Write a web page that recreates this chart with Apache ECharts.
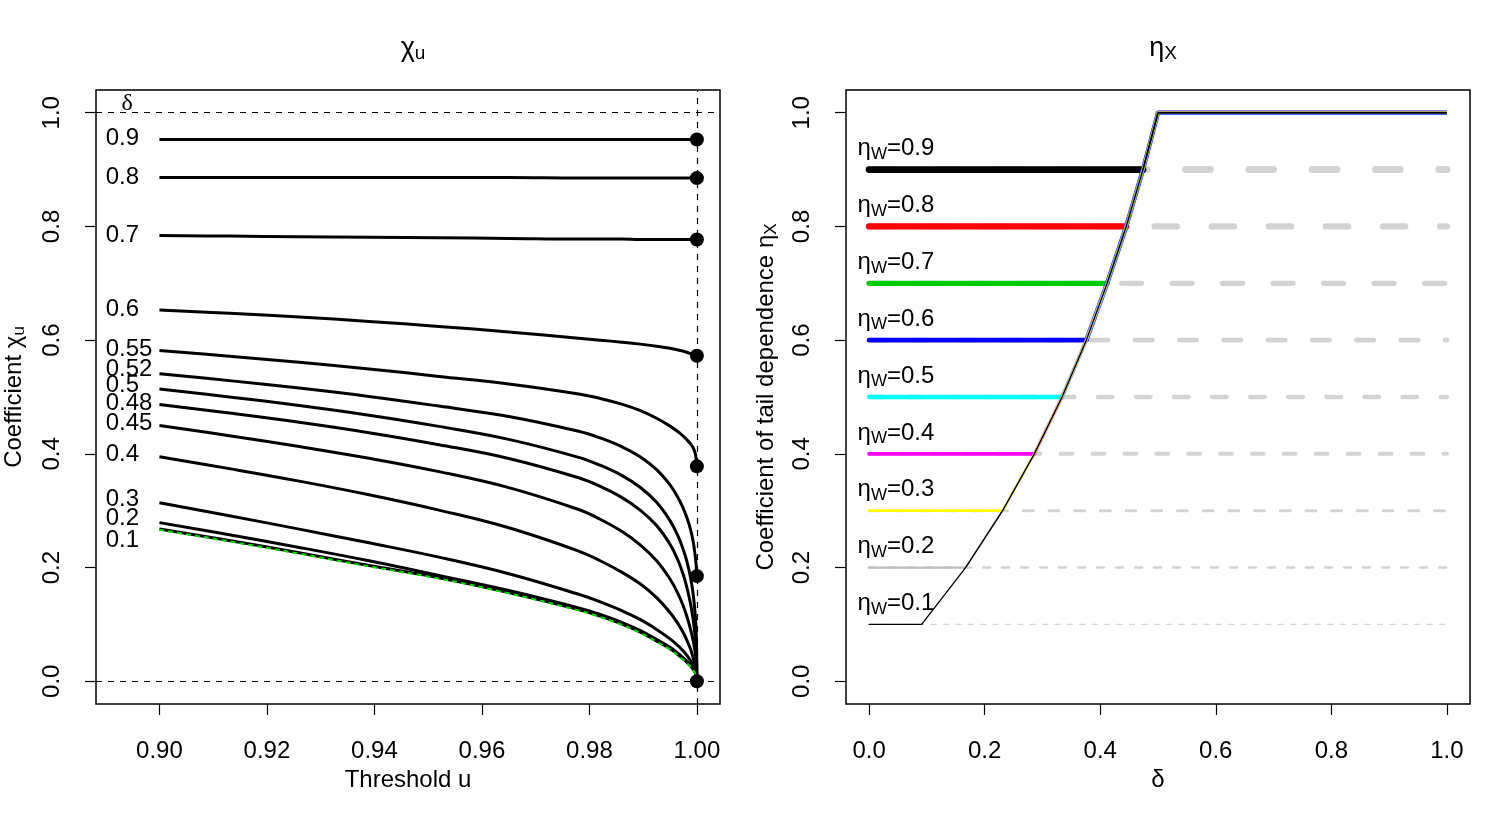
<!DOCTYPE html>
<html><head><meta charset="utf-8">
<script src="https://cdn.jsdelivr.net/npm/echarts@6/dist/echarts.min.js"></script>
<style>html,body{margin:0;padding:0;background:#fff}#c{width:1500px;height:825px}</style>
</head><body><div id="c"></div>
<script>
// ---------- Left panel data (chi_u vs threshold u) ----------
const uGrid   = [0.90, 0.913, 0.926, 0.939, 0.952, 0.965, 0.978, 0.982, 0.986, 0.9895, 0.9925, 0.995, 0.9965, 0.9975, 0.9981, 0.9988, 0.9993, 0.9997, 0.9999, 1.0];
const chiD090 = [0.953, 0.953, 0.953, 0.953, 0.953, 0.953, 0.953, 0.953, 0.953, 0.953, 0.953, 0.953, 0.953, 0.953, 0.953, 0.953, 0.953, 0.953, 0.953, 0.953];
const chiD080 = [0.886, 0.886, 0.886, 0.886, 0.886, 0.886, 0.885, 0.885, 0.885, 0.885, 0.885, 0.885, 0.885, 0.885, 0.885, 0.885, 0.885, 0.885, 0.885, 0.885];
const chiD070 = [0.784, 0.783, 0.782, 0.781, 0.780, 0.779, 0.778, 0.778, 0.778, 0.777, 0.777, 0.777, 0.777, 0.777, 0.777, 0.777, 0.777, 0.777, 0.777, 0.777];
const chiD060 = [0.653, 0.6472, 0.6407, 0.6330, 0.6240, 0.6145, 0.6035, 0.6000, 0.5965, 0.5930, 0.5893, 0.5856, 0.5828, 0.5805, 0.5788, 0.5765, 0.5748, 0.5735, 0.5728, 0.5726];
const chiD055 = [0.582, 0.5717, 0.5610, 0.5494, 0.5362, 0.5229, 0.5053, 0.4975, 0.4875, 0.4760, 0.4626, 0.4488, 0.4388, 0.4307, 0.4252, 0.4178, 0.4108, 0.4006, 0.3885, 0.378];
const chiD052 = [0.541, 0.5288, 0.5157, 0.5010, 0.4840, 0.4657, 0.4397, 0.4280, 0.4127, 0.3943, 0.3721, 0.3453, 0.3229, 0.3034, 0.2889, 0.2677, 0.2461, 0.2198, 0.2000, 0.185];
const chiD050 = [0.514, 0.5001, 0.4850, 0.4680, 0.4483, 0.4255, 0.3939, 0.3800, 0.3622, 0.3409, 0.3147, 0.2826, 0.2552, 0.2306, 0.2120, 0.1835, 0.1539, 0.1158, 0.0773, 0.0];
const chiD048 = [0.487, 0.4717, 0.4555, 0.4372, 0.4161, 0.3918, 0.3579, 0.3428, 0.3235, 0.3007, 0.2738, 0.2409, 0.2124, 0.1865, 0.1665, 0.1371, 0.1091, 0.0769, 0.0494, 0.0];
const chiD045 = [0.450, 0.4319, 0.4129, 0.3922, 0.3687, 0.3406, 0.3021, 0.2850, 0.2637, 0.2395, 0.2119, 0.1798, 0.1538, 0.1316, 0.1152, 0.0922, 0.0717, 0.0497, 0.0299, 0.0];
const chiD040 = [0.395, 0.374, 0.352, 0.328, 0.301, 0.270, 0.229, 0.212, 0.192, 0.171, 0.147, 0.121, 0.101, 0.085, 0.073, 0.057, 0.041, 0.025, 0.011, 0.0];
const chiD030 = [0.314, 0.2911, 0.2676, 0.2435, 0.2183, 0.1892, 0.1530, 0.1397, 0.1244, 0.1083, 0.0912, 0.0746, 0.0625, 0.0527, 0.0458, 0.0366, 0.0285, 0.0200, 0.0134, 0.0];
const chiD020 = [0.279, 0.2576, 0.2354, 0.2119, 0.1862, 0.1597, 0.1291, 0.1174, 0.1036, 0.0889, 0.0734, 0.0596, 0.0489, 0.0408, 0.0356, 0.0287, 0.0228, 0.0160, 0.0105, 0.0];
const chiD010 = [0.268, 0.2475, 0.2260, 0.2035, 0.1822, 0.1562, 0.1261, 0.1146, 0.1009, 0.0863, 0.0709, 0.0573, 0.0467, 0.0388, 0.0337, 0.0270, 0.0212, 0.0146, 0.0094, 0.0];
const chiGreen = [0.2665, 0.2460, 0.2245, 0.2020, 0.1807, 0.1547, 0.1246, 0.1131, 0.0994, 0.0848, 0.0694, 0.0558, 0.0452, 0.0373, 0.0322, 0.0255, 0.0197, 0.0135, 0.0120, 0.0120];
const deltaNames = ['0.9','0.8','0.7','0.6','0.55','0.52','0.5','0.48','0.45','0.4','0.3','0.2','0.1'];
const deltaLabelY = [0.955, 0.8865, 0.785, 0.6547, 0.5844, 0.549, 0.52, 0.4895, 0.454, 0.3987, 0.3197, 0.2869, 0.2477];
const deltaLabelU = 0.89;
const deltaSymbolU = 0.894, deltaSymbolY = 1.016;
const limitU   = [1, 1, 1, 1, 1, 1, 1];
const limitChi = [0.953, 0.885, 0.777, 0.5726, 0.378, 0.185, 0.0];
const uTicks   = [0.90, 0.92, 0.94, 0.96, 0.98, 1.00];
const chiTicks = [0.0, 0.2, 0.4, 0.6, 0.8, 1.0];

// ---------- Right panel data (eta_X vs delta) ----------
const etaW       = [0.9, 0.8, 0.7, 0.6, 0.5, 0.4, 0.3, 0.2, 0.1];
const crossDelta = [0.474, 0.445, 0.412, 0.376, 0.334, 0.286, 0.231, 0.167, 0.091];
const curveDelta = [0.091, 0.167, 0.231, 0.286, 0.334, 0.376, 0.412, 0.445, 0.474, 0.5, 1.0];
const curveEta   = [0.1, 0.2, 0.3, 0.4, 0.5, 0.6, 0.7, 0.8, 0.9, 1.0, 1.0];
const deltaTicks = [0.0, 0.2, 0.4, 0.6, 0.8, 1.0];
const etaTicks   = [0.0, 0.2, 0.4, 0.6, 0.8, 1.0];

// ---------- styles ----------
const FONT = "'Liberation Sans', Arial, Helvetica, sans-serif";
const FS = 24;
const segColors   = ['#000000','#ff0000','#00cd00','#0000ff','#00ffff','#ff00ff','#ffff00','#bebebe','#000000'];
const segWidths   = [6.7, 6.3, 5.3, 4.7, 4.3, 3.7, 2.8, 2.3, 1.2];
const dashWidths  = [7, 6.3, 5.3, 4.7, 4.3, 4, 3, 2.6, 1.2];
const dashPeriods = [63.3, 57.1, 50.5, 44.3, 38.1, 31.9, 25.7, 19, 12.4];
const curveWidths = [1.3, 2.6, 2.2, 4.4, 3.6, 3.0, 2.6, 2.0, 1.3];

const chart = echarts.init(document.getElementById('c'));
const series = [];

series.push({
  type: 'line', xAxisIndex: 0, yAxisIndex: 0, data: [[0.9, 0]], symbol: 'none',
  lineStyle: {opacity: 0}, silent: true, z: 1,
  markLine: {silent: true, symbol: ['none', 'none'], label: {show: false},
    lineStyle: {color: '#000', width: 1.2, type: [6, 6]},
    data: [{yAxis: 1}, {yAxis: 0}, {xAxis: 1}]}
});
const chiCurves = [chiD090, chiD080, chiD070, chiD060, chiD055, chiD052, chiD050, chiD048, chiD045, chiD040, chiD030, chiD020, chiD010];
chiCurves.forEach((arr, i) => {
  series.push({
    type: 'line', name: 'delta ' + deltaNames[i], xAxisIndex: 0, yAxisIndex: 0,
    data: uGrid.map((u, j) => [u, arr[j]]), symbol: 'none', smooth: 0.4,
    lineStyle: {color: '#000', width: 3, join: 'round'}, z: 3
  });
});
series.push({
  type: 'line', xAxisIndex: 0, yAxisIndex: 0, data: uGrid.map((u, j) => [u, chiGreen[j]]),
  symbol: 'none', smooth: 0.4,
  lineStyle: {color: '#00dd00', width: 2, type: [5, 4]}, z: 4
});
series.push({
  type: 'scatter', xAxisIndex: 0, yAxisIndex: 0, data: limitU.map((u, i) => [u, limitChi[i]]),
  symbolSize: 14, itemStyle: {color: '#000', opacity: 1}, z: 5
});
series.push({
  type: 'scatter', xAxisIndex: 0, yAxisIndex: 0, symbolSize: 0, z: 6, silent: true,
  itemStyle: {color: '#000', opacity: 1},
  data: deltaNames.map((n, i) => ({name: n, value: [deltaLabelU, deltaLabelY[i]]})),
  label: {show: true, position: 'right', distance: 0, formatter: '{b}', color: '#000', opacity: 1, fontSize: FS, fontFamily: FONT}
});
series.push({
  type: 'scatter', xAxisIndex: 0, yAxisIndex: 0, symbolSize: 0, z: 6, silent: true,
  itemStyle: {color: '#000', opacity: 1},
  data: [{name: 'δ', value: [deltaSymbolU, deltaSymbolY]}],
  label: {show: true, position: 'inside', formatter: '{b}', color: '#000', opacity: 1, fontSize: FS, fontFamily: "'Liberation Serif', 'DejaVu Serif', serif"}
});

// right panel
etaW.forEach((e, i) => {
  const w = dashWidths[i], p = dashPeriods[i];
  series.push({
    type: 'line', xAxisIndex: 1, yAxisIndex: 1, data: [[0, e], [1, e]], symbol: 'none',
    lineStyle: {color: '#d3d3d3', width: w, type: [Math.max(p / 2 - w, 0.6), p / 2 + w], cap: 'round'}, z: 2
  });
});
etaW.forEach((e, i) => {
  series.push({
    type: 'line', xAxisIndex: 1, yAxisIndex: 1, data: [[0, e], [crossDelta[i], e]], symbol: 'none',
    lineStyle: {color: segColors[i], width: segWidths[i], cap: 'round'}, z: 3
  });
});
const order = etaW.map((e, i) => i).sort((a, b) => curveWidths[b] - curveWidths[a]);
order.forEach(i => {
  const pts = [[crossDelta[i], etaW[i]]];
  curveDelta.forEach((d, j) => { if (d > crossDelta[i]) pts.push([d, curveEta[j]]); });
  series.push({
    type: 'line', xAxisIndex: 1, yAxisIndex: 1, data: pts, symbol: 'none',
    lineStyle: {color: segColors[i], width: curveWidths[i], join: 'round'}, z: 4
  });
});
const subRich = {
  a: {fontSize: FS, fontFamily: FONT, fontWeight: 'normal', color: '#000', verticalAlign: 'top', lineHeight: 26},
  s: {fontSize: 17, fontFamily: FONT, fontWeight: 'normal', color: '#000', verticalAlign: 'bottom', lineHeight: 14}
};
const titleRich = {
  a: {fontSize: 27, fontFamily: FONT, fontWeight: 'normal', color: '#000', verticalAlign: 'top', lineHeight: 28},
  s: {fontSize: 19, fontFamily: FONT, fontWeight: 'normal', color: '#000', verticalAlign: 'bottom', lineHeight: 16}
};
series.push({
  type: 'scatter', xAxisIndex: 1, yAxisIndex: 1, symbolSize: 0, z: 6, silent: true,
  itemStyle: {color: '#000', opacity: 1},
  data: etaW.map((e, i) => ({name: e.toFixed(1), value: [-0.02, e + 0.035]})),
  label: {show: true, position: 'right', distance: 0, opacity: 1, formatter: p => '{a|η}{s|W}{a|=' + p.name + '}', rich: subRich}
});

const tickStyle = {show: true, inside: false, length: 11, lineStyle: {color: '#000', width: 1.2}};
const labelStyle = {color: '#000', fontSize: FS, fontFamily: FONT};
const nameStyle = {color: '#000', fontSize: FS, fontFamily: FONT, rich: subRich};
function xAx(grid, min, max, ticks, dec, name) {
  return {type: 'value', gridIndex: grid, min: min, max: max,
    axisLine: {show: false, onZero: false}, splitLine: {show: false},
    axisTick: Object.assign({customValues: ticks}, tickStyle),
    axisLabel: Object.assign({customValues: ticks, formatter: v => v.toFixed(dec), margin: 35}, labelStyle),
    name: name, nameLocation: 'middle', nameGap: 64, nameTextStyle: nameStyle};
}
function yAx(grid, ticks, name, gap) {
  return {type: 'value', gridIndex: grid, min: -0.04, max: 1.04,
    axisLine: {show: false, onZero: false}, splitLine: {show: false},
    axisTick: Object.assign({customValues: ticks}, tickStyle),
    axisLabel: Object.assign({customValues: ticks, formatter: v => v.toFixed(1), rotate: 90, margin: 32}, labelStyle),
    name: name, nameLocation: 'middle', nameGap: gap, nameTextStyle: nameStyle};
}

chart.setOption({
  animation: false,
  backgroundColor: '#fff',
  title: [
    {text: '{a|χ}{s|u}', left: 408, top: 30, textAlign: 'center', textStyle: {rich: titleRich}},
    {text: '{a|η}{s|X}', left: 1158, top: 30, textAlign: 'center', textStyle: {rich: titleRich}}
  ],
  grid: [
    {left: 96, top: 90, width: 624, height: 614, show: true, borderColor: '#000', borderWidth: 1.5, backgroundColor: 'transparent'},
    {left: 846, top: 90, width: 624, height: 614, show: true, borderColor: '#000', borderWidth: 1.5, backgroundColor: 'transparent'}
  ],
  xAxis: [
    xAx(0, 0.8882, 1.0043, uTicks, 2, 'Threshold u'),
    xAx(1, -0.04, 1.04, deltaTicks, 1, 'δ')
  ],
  yAxis: [
    yAx(0, chiTicks, '{a|Coefficient χ}{s|u}', 68),
    yAx(1, etaTicks, '{a|Coefficient of tail dependence η}{s|X}', 66)
  ],
  series: series
});
</script></body></html>
